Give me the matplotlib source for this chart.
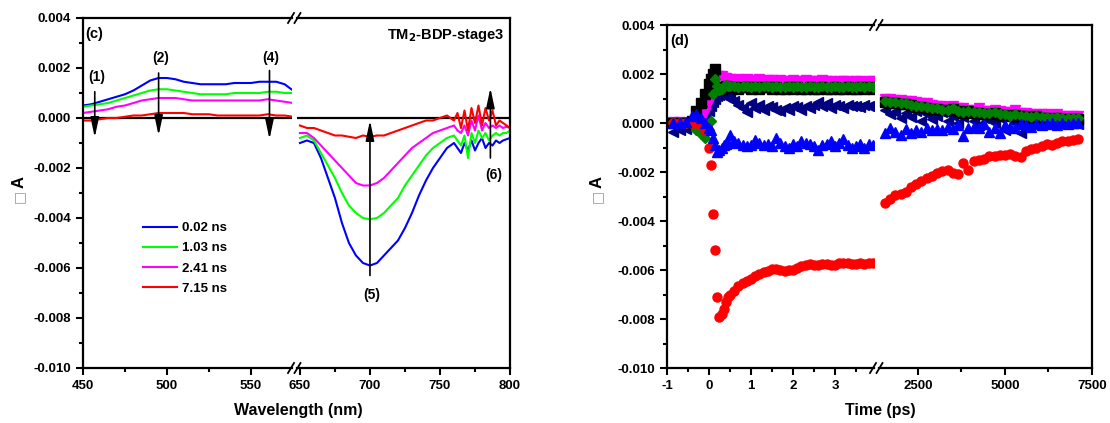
import numpy as np
import matplotlib
matplotlib.use("Agg")
import matplotlib.pyplot as plt
from matplotlib.ticker import FormatStrFormatter, FixedLocator
from matplotlib.lines import Line2D

plt.rcParams['font.family'] = ['Liberation Sans', 'DejaVu Sans']
plt.rcParams['font.weight'] = 'bold'
plt.rcParams['axes.unicode_minus'] = False

# ---- panel (c): transient spectra (dA in units of 1e-3) ----
wl_vis = [450, 455, 460, 465, 470, 475, 480, 485, 490, 495, 500, 505, 510,
          515, 520, 525, 530, 535, 540, 545, 550, 555, 560, 565, 570, 575]
wl_nir = [650, 655, 660, 665, 670, 675, 680, 685, 690, 695, 700, 705, 710, 715,
          720, 725, 730, 735, 740, 745, 750, 752.5, 755, 757.5, 760, 762.5, 765,
          767.5, 770, 772.5, 775, 777.5, 780, 782.5, 785, 787.5, 790, 792.5, 795,
          797.5, 800]
delays = ['0.02 ns', '1.03 ns', '2.41 ns', '7.15 ns']
spec_colors = ['#0000FF', '#00FF00', '#FF00FF', '#FF0000']

vis_002 = [0.5, 0.55, 0.65, 0.75, 0.85, 0.95, 1.1, 1.3, 1.5, 1.6, 1.6, 1.55, 1.45,
           1.4, 1.35, 1.35, 1.35, 1.35, 1.4, 1.4, 1.4, 1.45, 1.45, 1.45, 1.35, 1.1]
vis_103 = [0.45, 0.5, 0.55, 0.6, 0.7, 0.8, 0.9, 1.0, 1.1, 1.15, 1.15, 1.1, 1.05,
           1.0, 0.95, 0.95, 0.95, 0.95, 1.0, 1.0, 1.0, 1.0, 1.05, 1.05, 1.0, 1.0]
vis_241 = [0.2, 0.25, 0.3, 0.35, 0.45, 0.5, 0.6, 0.7, 0.75, 0.8, 0.8, 0.8, 0.75,
           0.7, 0.7, 0.7, 0.7, 0.7, 0.7, 0.7, 0.7, 0.7, 0.75, 0.7, 0.65, 0.6]
vis_715 = [-0.1, -0.1, -0.05, 0.0, 0.0, 0.05, 0.1, 0.1, 0.15, 0.2, 0.2, 0.2, 0.2,
           0.15, 0.15, 0.15, 0.1, 0.1, 0.1, 0.1, 0.1, 0.1, 0.15, 0.1, 0.1, 0.05]

nir_002 = [-1.0, -0.9, -1.0, -1.6, -2.4, -3.2, -4.2, -5.0, -5.5, -5.8, -5.9, -5.8,
           -5.5, -5.2, -4.9, -4.4, -3.8, -3.1, -2.5, -2.0, -1.6, -1.4, -1.2, -1.1,
           -1.0, -1.2, -1.4, -1.0, -1.3, -0.9, -1.3, -1.0, -0.8, -1.2, -1.0, -1.1,
           -0.9, -1.0, -0.9, -0.85, -0.8]
nir_103 = [-0.8, -0.7, -0.9, -1.4, -1.9, -2.4, -3.0, -3.5, -3.8, -4.0, -4.05, -4.0,
           -3.8, -3.5, -3.2, -2.7, -2.3, -1.9, -1.5, -1.2, -1.0, -0.9, -0.8, -0.75,
           -0.7, -0.9, -1.1, -0.7, -1.6, -0.6, -1.0, -0.5, -0.8, -0.6, -0.9, -0.7,
           -0.6, -0.7, -0.6, -0.6, -0.5]
nir_241 = [-0.6, -0.6, -0.8, -1.1, -1.4, -1.7, -2.0, -2.3, -2.6, -2.7, -2.7, -2.6,
           -2.4, -2.1, -1.8, -1.5, -1.2, -1.0, -0.8, -0.6, -0.5, -0.45, -0.4, -0.35,
           -0.3, -0.5, -0.6, -0.3, -0.7, -0.1, -0.5, 0.1, -0.5, -0.2, -0.4, -0.3,
           -0.4, -0.3, -0.4, -0.35, -0.4]
nir_715 = [-0.3, -0.4, -0.4, -0.5, -0.6, -0.7, -0.7, -0.75, -0.8, -0.7, -0.75, -0.7,
           -0.7, -0.6, -0.5, -0.4, -0.3, -0.2, -0.1, -0.1, 0.0, 0.05, 0.1, 0.0,
           -0.1, 0.2, -0.4, 0.3, -0.5, 0.4, -0.2, 0.5, -0.3, 0.4, -0.1, 0.3, -0.3,
           -0.1, -0.2, -0.3, -0.4]

# ---- panel (d): kinetics (dA in units of 1e-3) ----
t_short = [-0.85, -0.7, -0.55, -0.4, -0.3, -0.2, -0.1, 0.0, 0.05, 0.1, 0.15, 0.2,
           0.25, 0.3, 0.35, 0.4, 0.45, 0.5, 0.6, 0.7, 0.8, 0.9, 1.0, 1.1, 1.2, 1.3,
           1.4, 1.5, 1.6, 1.7, 1.8, 1.9, 2.0, 2.1, 2.2, 2.3, 2.4, 2.5, 2.6, 2.7,
           2.8, 2.9, 3.0, 3.1, 3.2, 3.3, 3.4, 3.5, 3.6, 3.7, 3.8, 3.9]
t_long = [1550, 1700, 1850, 2000, 2150, 2300, 2450, 2600, 2750, 2900, 3050, 3200,
          3350, 3500, 3650, 3800, 3950, 4100, 4250, 4400, 4550, 4700, 4850, 5000,
          5150, 5300, 5450, 5600, 5750, 5900, 6050, 6200, 6350, 6500, 6650, 6800,
          6950, 7100]
probe_labels = ['458 nm', '501 nm', '536 nm', '559 nm', '688 nm', '785 nm']
probe_colors = ['#000080', '#FF00FF', '#000000', '#008000', '#FF0000', '#0000FF']
probe_markers = ['<', 'v', 's', 'D', 'o', '^']

k458_s = [-0.35, -0.3, -0.25, -0.2, -0.15, -0.1, 0.2, 0.5, 0.7, 0.85, 1.0, 1.1, 1.15,
          1.2, 1.15, 1.1, 1.05, 1.0, 0.9, 0.75, 0.6, 0.45, 0.8, 0.6, 0.75, 0.55, 0.7,
          0.65, 0.55, 0.5, 0.6, 0.55, 0.7, 0.65, 0.55, 0.7, 0.6, 0.75, 0.85, 0.7, 0.8,
          0.6, 0.75, 0.7, 0.6, 0.75, 0.7, 0.7, 0.65, 0.75, 0.7, 0.7]
k501_s = [0.05, 0.05, 0.0, 0.0, -0.1, 0.1, 0.4, 0.8, 1.1, 1.4, 1.7, 1.85, 1.9, 1.9,
          1.85, 1.85, 1.8, 1.8, 1.75, 1.8, 1.75, 1.8, 1.75, 1.75, 1.8, 1.7, 1.75, 1.75,
          1.7, 1.75, 1.7, 1.7, 1.75, 1.7, 1.7, 1.75, 1.7, 1.7, 1.7, 1.75, 1.7, 1.7,
          1.65, 1.7, 1.7, 1.7, 1.65, 1.7, 1.7, 1.65, 1.7, 1.7]
k536_s = [0.0, 0.0, 0.0, 0.1, 0.5, 0.8, 1.2, 1.6, 1.8, 2.0, 2.2, 1.45, 1.35, 1.4,
          1.45, 1.5, 1.45, 1.45, 1.45, 1.4, 1.45, 1.45, 1.4, 1.45, 1.4, 1.45, 1.45,
          1.4, 1.45, 1.4, 1.4, 1.45, 1.4, 1.45, 1.4, 1.4, 1.45, 1.4, 1.4, 1.45, 1.4,
          1.4, 1.45, 1.4, 1.4, 1.45, 1.4, 1.4, 1.45, 1.4, 1.45, 1.4]
k559_s = [0.05, 0.0, 0.0, -0.05, -0.3, -0.45, -0.6, -0.3, 0.1, 1.2, 1.8, 1.5, 1.35,
          1.4, 1.5, 1.55, 1.5, 1.5, 1.5, 1.45, 1.5, 1.5, 1.45, 1.5, 1.45, 1.5, 1.5,
          1.45, 1.5, 1.45, 1.45, 1.5, 1.45, 1.5, 1.45, 1.45, 1.5, 1.45, 1.45, 1.5,
          1.45, 1.45, 1.5, 1.45, 1.45, 1.5, 1.45, 1.45, 1.5, 1.45, 1.5, 1.45]
k688_s = [0.0, 0.0, 0.0, 0.0, 0.0, -0.1, -0.3, -1.0, -1.7, -3.7, -5.2, -7.1, -7.9,
          -7.8, -7.6, -7.3, -7.1, -7.0, -6.85, -6.65, -6.55, -6.45, -6.35, -6.25,
          -6.15, -6.1, -6.05, -5.95, -5.95, -6.0, -6.05, -6.0, -6.0, -5.9, -5.85,
          -5.8, -5.75, -5.8, -5.8, -5.75, -5.75, -5.8, -5.8, -5.7, -5.7, -5.7, -5.75,
          -5.75, -5.7, -5.75, -5.7, -5.7]
k785_s = [0.0, 0.0, 0.05, 0.3, 0.35, 0.2, 0.0, -0.2, -0.3, -0.6, -0.9, -1.2, -1.1,
          -1.0, -0.9, -0.85, -0.8, -0.5, -0.75, -0.8, -0.9, -0.95, -0.9, -0.7, -0.8,
          -0.9, -0.85, -0.95, -0.6, -0.8, -0.95, -1.0, -0.85, -0.95, -0.75, -0.8,
          -0.85, -0.95, -1.1, -0.9, -0.85, -0.75, -0.95, -0.8, -0.65, -0.9, -1.0,
          -0.95, -0.85, -1.0, -0.85, -0.9]

k458_l = [0.55, 0.35, 0.45, 0.2, 0.4, 0.25, 0.5, 0.1, 0.35, 0.15, 0.3, 0.45, 0.1,
          0.3, 0.0, 0.25, 0.35, 0.1, -0.1, 0.2, 0.15, 0.0, 0.2, -0.3, 0.15, 0.0,
          -0.4, 0.05, 0.15, 0.0, 0.05, 0.1, 0.0, 0.05, 0.0, 0.05, 0.0, -0.05]
k501_l = [1.0, 1.0, 0.95, 0.95, 0.9, 0.9, 0.85, 0.8, 0.8, 0.75, 0.7, 0.7, 0.65, 0.7,
          0.6, 0.6, 0.55, 0.55, 0.6, 0.5, 0.5, 0.55, 0.5, 0.45, 0.45, 0.55, 0.4, 0.4,
          0.35, 0.35, 0.35, 0.35, 0.3, 0.35, 0.3, 0.3, 0.3, 0.3]
k536_l = [0.87, 0.82, 0.82, 0.77, 0.77, 0.72, 0.67, 0.67, 0.62, 0.57, 0.57, 0.52,
          0.52, 0.57, 0.47, 0.42, 0.47, 0.42, 0.42, 0.37, 0.37, 0.42, 0.32, 0.32,
          0.27, 0.32, 0.27, 0.27, 0.22, 0.27, 0.22, 0.22, 0.17, 0.22, 0.17, 0.17,
          0.17, 0.17]
k559_l = [0.9, 0.85, 0.85, 0.8, 0.8, 0.75, 0.7, 0.7, 0.65, 0.6, 0.6, 0.55, 0.55, 0.6,
          0.5, 0.45, 0.5, 0.45, 0.45, 0.4, 0.4, 0.45, 0.35, 0.35, 0.3, 0.35, 0.3, 0.3,
          0.25, 0.3, 0.25, 0.25, 0.2, 0.25, 0.2, 0.2, 0.2, 0.2]
k688_l = [-3.25, -3.1, -2.95, -2.9, -2.8, -2.6, -2.5, -2.35, -2.25, -2.15, -2.05,
          -1.95, -1.9, -2.05, -2.1, -1.65, -1.9, -1.55, -1.5, -1.45, -1.35, -1.35,
          -1.3, -1.3, -1.25, -1.35, -1.4, -1.15, -1.05, -1.0, -0.95, -0.85, -0.9,
          -0.8, -0.75, -0.75, -0.7, -0.65]
k785_l = [-0.4, -0.2, -0.35, -0.5, -0.25, -0.4, -0.3, -0.35, -0.2, -0.3, -0.25, -0.3,
          -0.15, -0.25, -0.1, -0.55, -0.2, -0.15, -0.2, -0.05, -0.35, -0.2, -0.4,
          -0.1, -0.15, -0.2, -0.05, -0.1, -0.15, -0.05, -0.1, -0.05, 0.0, -0.1, 0.0,
          -0.05, 0.0, 0.0]

W, H = 1110, 423
fig = plt.figure(figsize=(W / 100, H / 100), dpi=100)


def box(x0, x1, y0, y1):
    # pixel box -> figure fraction
    return [x0 / W, 1 - y1 / H, (x1 - x0) / W, (y1 - y0) / H]


def style(ax, left_part):
    for s in ax.spines.values():
        s.set_linewidth(1.6)
    ax.tick_params(which='both', direction='out', top=False, right=False,
                   labelsize=9.5, width=1.5, pad=3.5)
    ax.tick_params(which='major', length=5)
    ax.tick_params(which='minor', length=3)
    if left_part:
        ax.spines['right'].set_visible(False)
        ax.yaxis.set_major_formatter(FormatStrFormatter('%.3f'))
    else:
        ax.spines['left'].set_visible(False)
        ax.tick_params(axis='y', which='both', left=False, labelleft=False)
    ax.set_ylim(-0.010, 0.004)
    ax.set_yticks([-0.010, -0.008, -0.006, -0.004, -0.002, 0.0, 0.002, 0.004])
    ax.yaxis.set_minor_locator(FixedLocator([-0.009, -0.007, -0.005, -0.003,
                                             -0.001, 0.001, 0.003]))


def breakmarks(xc, ytop, ybot):
    for y in (ytop, ybot):
        for dx in (-3.5, 3.0):
            fig.add_artist(Line2D([(xc + dx - 3) / W, (xc + dx + 3) / W],
                                  [1 - (y + 5) / H, 1 - (y - 5) / H],
                                  color='k', lw=1.3, transform=fig.transFigure))


# ---------- panel (c) ----------
axc1 = fig.add_axes(box(83, 292, 18, 368))
axc2 = fig.add_axes(box(297, 510, 18, 368))
vis_sets = [vis_002, vis_103, vis_241, vis_715]
nir_sets = [nir_002, nir_103, nir_241, nir_715]
for vis, nir, c, lab in zip(vis_sets, nir_sets, spec_colors, delays):
    axc1.plot(wl_vis, np.array(vis) * 1e-3, color=c, lw=1.5, label=lab)
    axc2.plot(wl_nir, np.array(nir) * 1e-3, color=c, lw=1.5)
for ax in (axc1, axc2):
    ax.axhline(0, color='k', lw=1.6, zorder=1)
style(axc1, True)
style(axc2, False)
axc1.set_xlim(450, 574.4)
axc1.set_xticks([450, 500, 550])
axc1.xaxis.set_minor_locator(FixedLocator([475, 525]))
axc2.set_xlim(647.9, 800)
axc2.set_xticks([650, 700, 750, 800])
axc2.xaxis.set_minor_locator(FixedLocator([675, 725, 775]))
breakmarks(294.5, 18, 368)

arrow = dict(arrowstyle='-|>,head_length=0.8,head_width=0.17', color='k', lw=1.2,
             mutation_scale=15, shrinkA=0, shrinkB=0)
for ax, x, y0, y1, lab, ylab in [
        (axc1, 457, 0.00105, -0.00078, '(1)', 0.00165),
        (axc1, 495, 0.0018, -0.0007, '(2)', 0.0024),
        (axc1, 561, 0.0019, -0.00085, '(4)', 0.0024),
        (axc2, 700, -0.0063, -0.0001, '(5)', -0.0071),
        (axc2, 786, -0.0016, 0.0012, '(6)', -0.0023)]:
    ax.annotate('', xy=(x, y1), xytext=(x, y0), arrowprops=arrow)
    xl = x + 2.5 if lab == '(6)' else x + 1
    ax.text(xl, ylab, lab, ha='center', va='center', fontsize=10)

axc1.text(0.012, 0.975, '(c)', transform=axc1.transAxes, ha='left', va='top',
          fontsize=10.5)
axc2.text(0.975, 0.975, 'TM$_\\mathbf{2}$-BDP-stage3', transform=axc2.transAxes,
          ha='right', va='top', fontsize=10.5)
axc1.legend(loc='upper left', bbox_to_anchor=(143 / W, 1 - 222 / H),
            bbox_transform=fig.transFigure, frameon=False, fontsize=9.5,
            handlelength=2.6, handletextpad=0.35, labelspacing=0.6,
            borderpad=0, borderaxespad=0)

# ---------- panel (d) ----------
axd1 = fig.add_axes(box(667, 874, 25, 368))
axd2 = fig.add_axes(box(879, 1092, 25, 368))
short_sets = [k458_s, k501_s, k536_s, k559_s, k688_s, k785_s]
long_sets = [k458_l, k501_l, k536_l, k559_l, k688_l, k785_l]
for ks, kl, c, m, lab in zip(short_sets, long_sets, probe_colors, probe_markers,
                             probe_labels):
    ms = 5.5 if m == 'D' else 6.5
    axd1.plot(t_short, np.array(ks) * 1e-3, ls='none', marker=m, ms=ms, color=c,
              mec=c, label=lab)
    axd2.plot(t_long, np.array(kl) * 1e-3, ls='none', marker=m, ms=ms, color=c,
              mec=c)
style(axd1, True)
style(axd2, False)
axd1.set_xlim(-1, 3.93)
axd1.set_xticks([-1, 0, 1, 2, 3])
axd1.xaxis.set_minor_locator(FixedLocator([-0.5, 0.5, 1.5, 2.5, 3.5]))
axd2.set_xlim(1380, 7500)
axd2.set_xticks([2500, 5000, 7500])
axd2.xaxis.set_minor_locator(FixedLocator([3750, 6250]))
breakmarks(876.5, 25, 368)
axd1.text(0.015, 0.975, '(d)', transform=axd1.transAxes, ha='left', va='top',
          fontsize=10.5)
axd1.legend(loc='upper left', bbox_to_anchor=(966 / W, 1 - 221 / H),
            bbox_transform=fig.transFigure, frameon=False, fontsize=9.5,
            handlelength=1.0, handletextpad=0.9, labelspacing=0.32,
            borderpad=0, borderaxespad=0)

# axis titles
fig.text(298 / W, 1 - 410 / H, 'Wavelength (nm)', ha='center', va='center',
         fontsize=11.5)
fig.text(880 / W, 1 - 410 / H, 'Time (ps)', ha='center', va='center', fontsize=11.5)
for xp in (19, 597):
    fig.text(xp / W, 1 - 196 / H, '\u25a1', rotation=90, ha='center', va='center',
             fontsize=10, color='#999999', fontweight='normal',
             family=['DejaVu Sans'])
    fig.text(xp / W, 1 - 182 / H, 'A', rotation=90, ha='center', va='center',
             fontsize=12)

fig.savefig('out.png', dpi=100)
